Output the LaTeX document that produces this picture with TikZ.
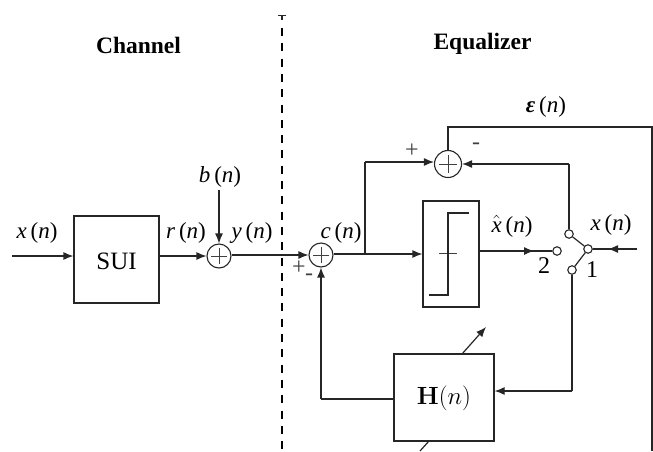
\documentclass[tikz,border=0pt]{standalone}
\usepackage[no-math]{fontspec}
\setmainfont{Liberation Serif}
\usetikzlibrary{arrows.meta}
\newcommand{\vr}[1]{\textit{#1}\,(\textit{n})}
\tikzset{
 lbl/.style={font=\fontsize{23}{26}\selectfont,inner sep=0pt,text=black},
 smalllbl/.style={font=\fontsize{24}{26}\selectfont,inner sep=0pt,text=black!75},
 titlelbl/.style={inner sep=0pt,font=\fontsize{23.5}{26}\selectfont\bfseries},
 wire/.style={draw=black!85,line width=1.2pt},
 arr/.style={wire,-{Latex[length=10pt,width=8pt]}},
 sumnode/.style={circle,draw=black!85,line width=1.1pt,minimum size=#1,inner sep=0pt,fill=white},
 contact/.style={circle,draw=black!85,line width=1.1pt,minimum size=8.5pt,inner sep=0pt,fill=white},
 blockbox/.style={rectangle,draw=black!85,line width=1.2pt,inner sep=0pt,fill=white},
 crossline/.style={draw=black!75,line width=0.9pt}
}
\begin{document}
\begin{tikzpicture}[x=1pt,y=-1pt]
\useasboundingbox (0,0) rectangle (653,451);
% divider
\coordinate (dtop) at (282,28);
\coordinate (dbot) at (282,451);
\draw[draw=black,line width=1.8pt,dash pattern=on 8pt off 7.3pt] (dtop) -- (dbot);
\coordinate (tl) at (278,15.5); \coordinate (tr) at (286,15.5); \coordinate (ts) at (282,19.5); \coordinate (tt) at (282,15.5);
\draw[wire] (tl) -- (tr);
\draw[wire] (tt) -- (ts);
% titles
\node[titlelbl] (chan) at (138.5,45) {Channel};
\node[titlelbl] (eq) at (482.5,44) {Equalizer};
% blocks
\node[blockbox,minimum width=85pt,minimum height=87pt] (sui) at (116.5,259.5) {};
\node[lbl,font=\fontsize{25}{26}\selectfont] at (116.5,261) {SUI};
\node[blockbox,minimum width=56pt,minimum height=106pt] (thr) at (451,254) {};
\node[blockbox,minimum width=100pt,minimum height=87pt] (hb) at (444,397.5) {};
\node[font=\fontsize{23}{26}\selectfont,inner sep=0pt] at (444,398) {$\mathbf{H}(n)$};
% sums
\node[sumnode=24pt] (s1) at (219,256) {};
\node[sumnode=24pt] (s2) at (321,255) {};
\node[sumnode=27pt] (s3) at (448,164) {};
\foreach \c/\r in {s1/8,s2/8,s3/9}{
 \draw[crossline] ([xshift=-\r pt]\c.center) -- ([xshift=\r pt]\c.center);
 \draw[crossline] ([yshift=-\r pt]\c.center) -- ([yshift=\r pt]\c.center);
}
% threshold glyph
\coordinate (a1) at (439,253); \coordinate (a2) at (457,253);
\draw[crossline] (a1) -- (a2);
\coordinate (b1) at (429,295); \coordinate (b2) at (448,295); \coordinate (b3) at (448,213); \coordinate (b4) at (469,213);
\draw[wire] (b1) -- (b2) -- (b3) -- (b4);
% switch
\node[contact] (ct) at (569,234) {};
\node[contact] (c2) at (557,251) {};
\node[contact] (c1) at (572,270) {};
\node[contact] (cp) at (588,249) {};
\draw[wire] (ct) -- (cp);
\draw[wire] (c1) -- (cp);
% inputs
\coordinate (xin) at (12,256);
\draw[arr] (xin) -- (sui.west |- xin);
\draw[arr] (sui.east |- s1) -- (s1);
\coordinate (bt) at (219,190);
\draw[arr] (bt) -- (s1);
\draw[arr] (s1.east |- s2) -- (s2);
% after s2
\coordinate (br) at (365,254);
\draw[arr] (s2.east |- br) -- (thr.west |- br);
\coordinate (bu) at (365,162);
\draw[wire] (br) -- (bu);
\draw[arr] (bu) -- (s3.west |- bu);
\coordinate (m2) at (534,251);
\draw[wire] (thr.east |- c2) -- (c2);
\draw[arr] (thr.east |- c2) -- (m2);
% error
\coordinate (ct2) at (569,164);
\draw[wire] (ct) -- (ct2);
\draw[arr] (ct2) -- (s3);
% x(n) ref
\coordinate (xr) at (637,249);
\coordinate (m3) at (608,249);
\draw[wire] (xr) -- (cp);
\draw[arr] (xr) -- (m3);
% H input
\coordinate (h1) at (571,391);
\draw[wire] (c1.south) -- (c1.south |- h1);
\draw[arr] (c1.south |- h1) -- (hb.east |- h1);
% H output
\coordinate (h2) at (321,399);
\draw[wire] (hb.west |- h2) -- (h2);
\draw[arr] (h2) -- (s2);
% adaptation
\coordinate (e1) at (448,127); \coordinate (e2) at (652,127); \coordinate (e3) at (652,451);
\draw[wire] (s3) -- (e1) -- (e2) -- (e3);
\coordinate (p1) at (462,354); \coordinate (p2) at (486,327);
\draw[wire,-{Latex[length=10pt,width=8pt]}] (p1) -- (p2);
\coordinate (q1) at (429,441); \coordinate (q2) at (420,451);
\draw[wire] (q1) -- (q2);
% labels
\node[lbl] at (37,233) {\vr{x}};
\node[lbl] at (186,233) {\vr{r}};
\node[lbl] at (220,177) {\vr{b}};
\node[lbl] at (252,233) {\vr{y}};
\node[lbl] at (341,233) {\vr{c}};
\node[lbl] at (512,226) {$\hat{\mbox{\textit{x}}}$\,(\textit{n})};
\node[lbl] at (611,225) {\vr{x}};
\node[lbl] at (546,107) {\textbf{\textit{ε}}\,(\textit{n})};
\node[lbl,font=\fontsize{24}{26}\selectfont] at (544,266) {2};
\node[lbl,font=\fontsize{24}{26}\selectfont] at (592,270) {1};
\node[smalllbl] at (412,151) {+};
\node[smalllbl] at (476,146) {-};
\node[smalllbl] at (299,268) {+};
\node[smalllbl] at (309,277) {-};
\end{tikzpicture}
\end{document}
